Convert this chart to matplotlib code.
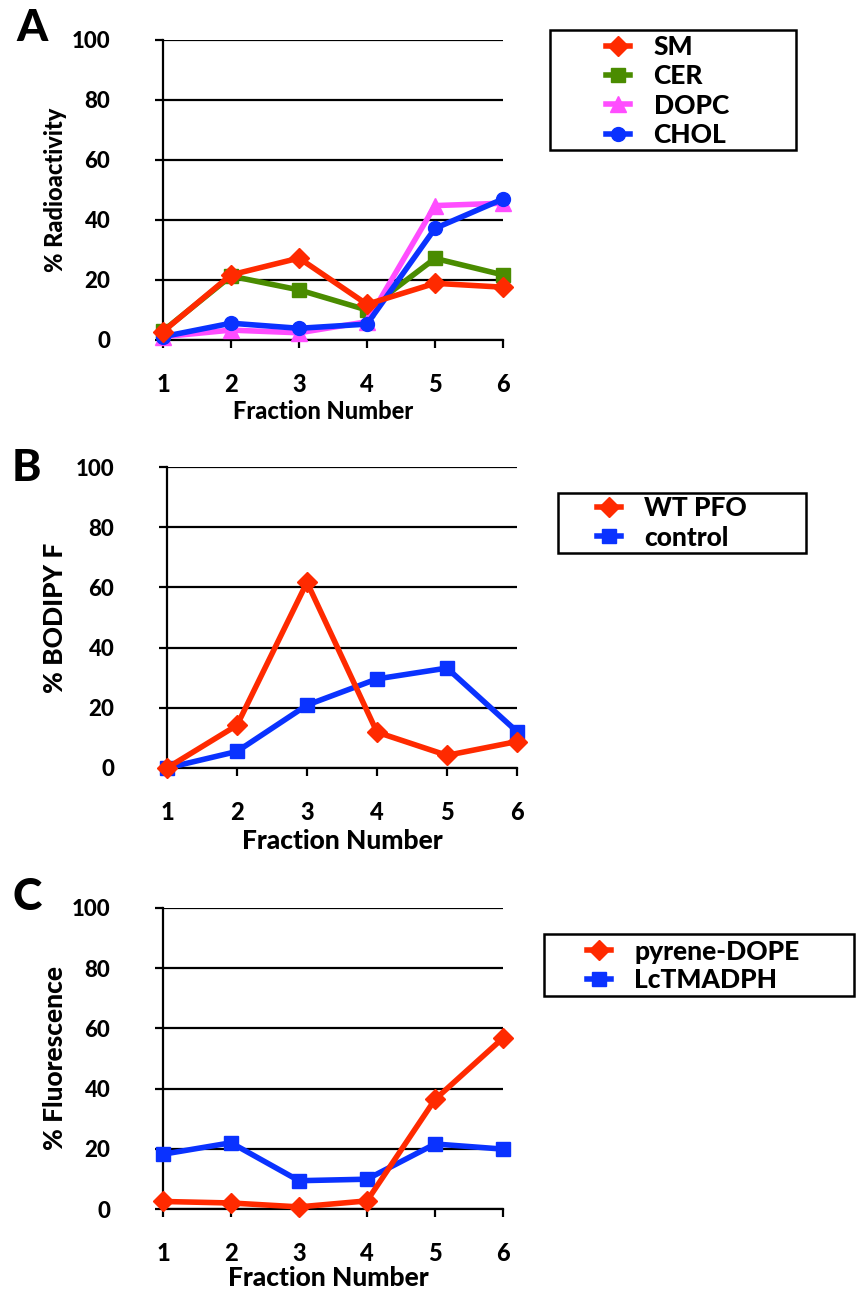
import numpy as np
import matplotlib
matplotlib.use('Agg')
import matplotlib.pyplot as plt
from matplotlib.patches import Rectangle

plt.rcParams['font.family'] = ['Lato', 'DejaVu Sans']
plt.rcParams['font.weight'] = 'black'

fractions = [1, 2, 3, 4, 5, 6]

# panel A, % radioactivity
sm = [2.8, 21.7, 27.3, 11.9, 18.9, 17.6]
cer = [3.0, 21.3, 16.7, 10.0, 27.2, 21.7]
dopc = [1.1, 3.3, 2.4, 6.1, 44.8, 45.6]
chol = [1.1, 5.6, 3.9, 5.3, 37.2, 47.0]

# panel B, % BODIPY F
wt_pfo = [0.0, 14.2, 61.7, 11.9, 4.2, 8.8]
control = [0.0, 5.5, 20.9, 29.6, 33.2, 12.1]

# panel C, % fluorescence
pyrene_dope = [2.5, 2.0, 0.7, 2.7, 36.4, 56.8]
lctmadph = [18.2, 22.0, 9.4, 9.9, 21.6, 19.9]

RED = '#ff2a00'
GREEN = '#4a8c00'
MAGENTA = '#ff4dff'
BLUE = '#0a32ff'

W, H = 856, 1289
fig = plt.figure(figsize=(W / 100, H / 100), dpi=100)


def make_ax(left, top, right, bottom):
    return fig.add_axes([left / W, 1 - bottom / H, (right - left) / W, (bottom - top) / H])


def style_ax(ax, ylabel, lab_size, xlab_pos, ylab_x):
    ax.set_xlim(1, 6)
    ax.set_ylim(0, 100)
    ax.set_xticks(fractions)
    ax.set_yticks(np.arange(0, 101, 20))
    ax.yaxis.grid(True, color='black', linewidth=1.6)
    ax.set_axisbelow(True)
    for s in ['top', 'right']:
        ax.spines[s].set_visible(False)
    for s in ['left', 'bottom']:
        ax.spines[s].set_linewidth(1.6)
    ax.tick_params(axis='x', direction='out', length=6, width=1.6, pad=18, labelsize=17)
    ax.tick_params(axis='y', direction='out', length=6, width=1.6, pad=32, labelsize=16)
    ax.set_xlabel('Fraction Number', fontsize=lab_size, fontweight='black')
    ax.set_ylabel(ylabel, fontsize=lab_size, fontweight='black')
    ax.xaxis.set_label_coords(xlab_pos[0], xlab_pos[1])
    ax.yaxis.set_label_coords(ylab_x, 0.5)
    ax.patch.set_visible(False)


def plot_series(ax, y, color, marker, label, ms=10):
    ax.plot(fractions, y, color=color, linewidth=4, marker=marker, markersize=ms,
            markeredgecolor=color, label=label, clip_on=False, zorder=3)


def add_legend(ax, box, hx, cy, spacing):
    # frame drawn separately so its size can follow the original
    l, t, r, b = box
    fig.patches.append(Rectangle((l / W, 1 - b / H), (r - l) / W, (b - t) / H,
                                 transform=fig.transFigure, fill=True,
                                 facecolor='white', edgecolor='black',
                                 linewidth=1.8, zorder=-1))
    leg = ax.legend(loc='center left', bbox_to_anchor=(hx / W, 1 - cy / H),
                    bbox_transform=fig.transFigure, frameon=False,
                    fontsize=19, handlelength=0.9, handletextpad=0.9,
                    borderpad=0, labelspacing=spacing, borderaxespad=0)
    return leg


# A
axA = make_ax(163, 40, 503, 340)
plot_series(axA, sm, RED, 'D', 'SM')
plot_series(axA, cer, GREEN, 's', 'CER')
plot_series(axA, dopc, MAGENTA, '^', 'DOPC', ms=11)
plot_series(axA, chol, BLUE, 'o', 'CHOL')
axA.lines[0].set_zorder(4)
style_ax(axA, '% Radioactivity', 17, (0.47, -0.2), -0.282)
add_legend(axA, (550, 30, 796, 150), 606, 91, 0.2)

# B
axB = make_ax(167, 467, 517, 768)
plot_series(axB, wt_pfo, RED, 'D', 'WT PFO')
plot_series(axB, control, BLUE, 's', 'control')
axB.lines[0].set_zorder(4)
style_ax(axB, '% BODIPY F', 19, (0.5, -0.203), -0.286)
add_legend(axB, (558, 493, 806, 553), 597, 523, 0.2)

# C
axC = make_ax(163, 908, 503, 1209)
plot_series(axC, pyrene_dope, RED, 'D', 'pyrene-DOPE')
plot_series(axC, lctmadph, BLUE, 's', 'LcTMADPH')
axC.lines[0].set_zorder(4)
style_ax(axC, '% Fluorescence', 19, (0.485, -0.19), -0.282)
add_legend(axC, (544, 934, 854, 996), 587, 966, 0.18)

for letter, x, y in [('A', 16, 28), ('B', 12, 468), ('C', 12, 897)]:
    fig.text(x / W, 1 - y / H, letter, fontsize=32, fontweight='black',
             ha='left', va='center')

fig.savefig('out.png', dpi=100)
